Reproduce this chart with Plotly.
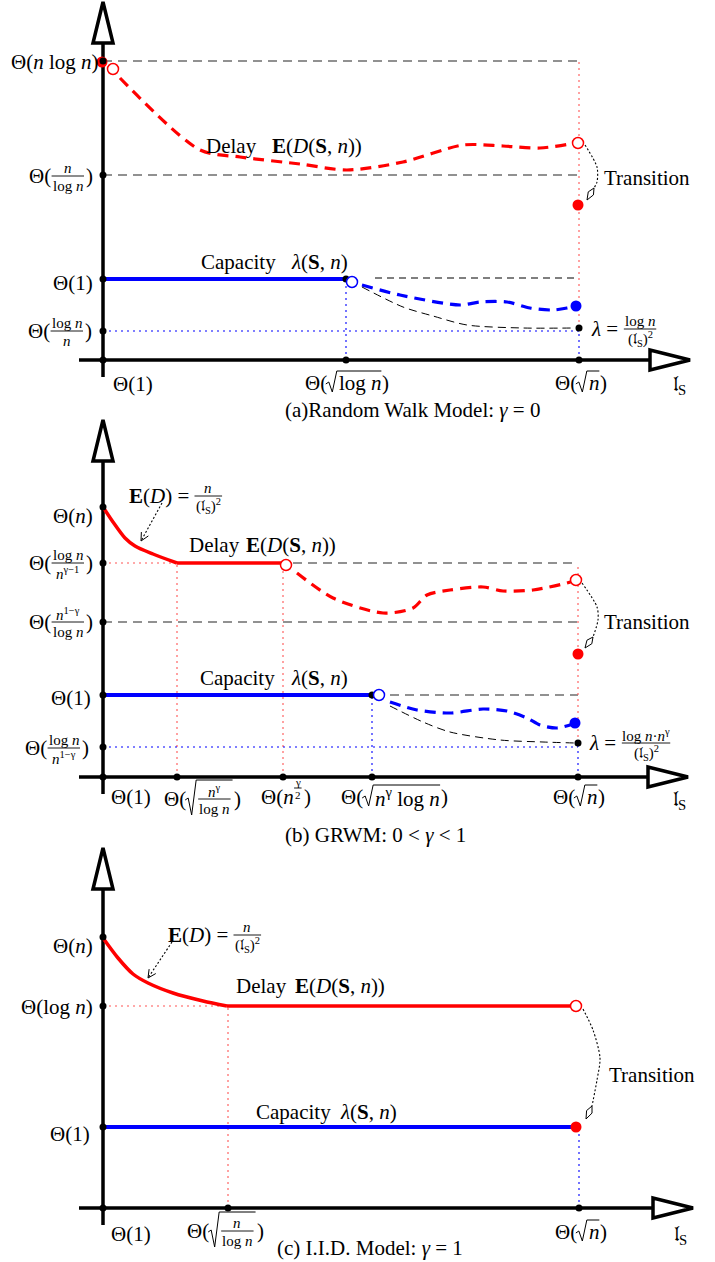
import re
import plotly.graph_objects as go

FONT = "Liberation Serif"
FS = 21
FR = 15
W, H = 715, 1262
OX = 103  # pixel x of the vertical axes

# ============================ DATA ============================
# Per panel: x = position along the l_S axis (origin = Θ(1) tick),
#            y = height above the l_S axis.

# ---- (a) Random Walk Model ----
a_ytick_vals = [299, 185, 81, 29]
a_xtick_vals = [0, 243, 476]
a_delay_x = [17, 97, 137, 197, 244, 300, 360, 400, 437, 467, 471]
a_delay_y = [282, 210, 203, 196, 190, 198, 215, 214, 212, 216, 217]
a_cap_x = [0, 243]
a_cap_y = [81, 81]
a_capdash_x = [259, 297, 357, 377, 404, 427, 450, 464, 472]
a_capdash_y = [75, 65, 55, 58, 58, 52, 50, 52, 54]
a_bound_x = [259, 300, 330, 364, 420, 470]
a_bound_y = [73, 53, 44, 35, 32, 32]
a_red_open_x = [10, 475]
a_red_open_y = [291, 217]
a_red_fill_x = [-1, 475]
a_red_fill_y = [298, 155]
a_blue_open_x = [249]
a_blue_open_y = [78]
a_blue_fill_x = [473]
a_blue_fill_y = [54]
a_black_x = [243, 476]
a_black_y = [81, 32]

# ---- (b) GRWM ----
b_ytick_vals = [270, 214, 155, 82, 30]
b_xtick_vals = [0, 74, 180, 269, 475]
b_delay_x = [0, 10, 22, 32, 50, 74]
b_delay_y = [270, 255, 239, 231, 223, 214]
b_flat_x = [74, 180]
b_flat_y = [214, 214]
b_delaydash_x = [194, 230, 280, 310, 324, 347, 380, 400, 430, 464, 470]
b_delaydash_y = [204, 179, 164, 169, 182, 187, 190, 186, 187, 194, 196]
b_cap_x = [0, 269]
b_cap_y = [82, 82]
b_capdash_x = [287, 314, 347, 380, 404, 424, 437, 454, 470]
b_capdash_y = [75, 67, 64, 68, 66, 59, 52, 49, 53]
b_bound_x = [287, 320, 347, 397, 440, 472]
b_bound_y = [71, 55, 45, 37, 35, 34]
b_red_open_x = [183, 473]
b_red_open_y = [212, 197]
b_red_fill_x = [475]
b_red_fill_y = [123]
b_blue_open_x = [276]
b_blue_open_y = [82]
b_blue_fill_x = [472]
b_blue_fill_y = [54]
b_black_x = [269, 475]
b_black_y = [82, 34]

# ---- (c) I.I.D. Model ----
c_ytick_vals = [271, 202, 81]
c_xtick_vals = [0, 125, 476]
c_delay_x = [0, 15, 30, 45, 70, 100, 124]
c_delay_y = [270, 250, 234, 225, 215, 207, 202]
c_flat_x = [124, 470]
c_flat_y = [202, 202]
c_cap_x = [0, 470]
c_cap_y = [81, 81]
c_red_open_x = [473]
c_red_open_y = [202]
c_red_fill_x = [473]
c_red_fill_y = [81]

# transition arrows (dotted path)
a_trans_x = [482, 494, 494, 491]
a_trans_y = [215, 193, 178, 172]
b_trans_x = [479, 494, 495, 490]
b_trans_y = [194, 170, 157, 140]
c_trans_x = [480, 490, 497, 494, 489]
c_trans_y = [199, 178, 150, 128, 102]

# ============================ FIGURE ============================
P = {
    'a': dict(yref='y', oy=360, top=0, bot=418),
    'b': dict(yref='y2', oy=777, top=418, bot=843),
    'c': dict(yref='y3', oy=1208, top=843, bot=1262),
}

fig = go.Figure()

CW = {'Θ': .722, '(': .333, ')': .333, ' ': .25, 'l': .278, 'o': .5, 'g': .5, 'n': .5,
      '1': .5, '2': .5, '0': .5, 'γ': .45, 'λ': .5, '=': .564, '·': .25, '−': .564,
      '-': .333, 'E': .667, 'D': .722, 'S': .556, ',': .25, '𝔩': .3}


def tw_html(html, size):
    w = 0.0
    scale = 1.0
    for tok in re.split(r'(<[^>]+>)', html):
        if tok.startswith('<'):
            t = tok.lower()
            if t in ('<sup>', '<sub>'):
                scale = 0.7
            elif t in ('</sup>', '</sub>'):
                scale = 1.0
            continue
        tok = tok.replace('&lt;', '<').replace('&gt;', '>').replace('&amp;', '&')
        w += sum(CW.get(ch, .5) for ch in tok) * size * scale
    return w


def ann(p, px, py, html, size=FS, anchor='left'):
    fig.add_annotation(x=px - OX, y=P[p]['oy'] - py, xref='x', yref=P[p]['yref'],
                       text=html, showarrow=False, xanchor=anchor, yanchor='middle',
                       font=dict(family=FONT, size=size, color='black'), borderpad=0)


def pline(p, pts, color='black', width=1.0, fill=None, close=False, dash='solid', layer='above'):
    path = 'M ' + ' L '.join(f'{x - OX:.2f},{P[p]["oy"] - y:.2f}' for x, y in pts)
    if close:
        path += ' Z'
    fig.add_shape(type='path', path=path, xref='x', yref=P[p]['yref'],
                  line=dict(color=color, width=width, dash=dash),
                  fillcolor=fill if fill else 'rgba(0,0,0,0)', layer=layer)


def T(html, size=FS, dy=0):
    return ('t', html, size, dy)


def F(nh, dh, size=FR, dy=0):
    return ('f', nh, dh, size, dy)


def SQ(items, tall=False):
    return ('sq', items, tall)


def iw(it):
    if it[0] == 't':
        return tw_html(it[1], it[2])
    if it[0] == 'f':
        return max(tw_html(it[1], it[3]), tw_html(it[2], it[3])) + 4
    return 12 + sum(iw(i) for i in it[1]) + 1


def draw(p, it, x, y):
    if it[0] == 't':
        ann(p, x, y + it[3], it[1], it[2])
    elif it[0] == 'f':
        _, nh, dh, size, dy = it
        w = iw(it)
        cx = x + w / 2
        yy = y + dy
        ann(p, cx, yy - size * 0.55, nh, size, 'center')
        ann(p, cx, yy + size * 0.68, dh, size, 'center')
        pline(p, [(x + 1, yy), (x + w - 1, yy)], width=0.9)
    else:
        _, items, tall = it
        w = iw(it)
        top = 19 if tall else 12
        bot = 16 if tall else 9
        pline(p, [(x, y + 1), (x + 3, y - 1), (x + 6.5, y + bot), (x + 11, y - top), (x + w, y - top)],
              width=1.0)
        cx = x + 12
        for i in items:
            draw(p, i, cx, y)
            cx += iw(i)


def compose(p, x, y, items, align='left'):
    total = sum(iw(i) for i in items)
    x0 = x if align == 'left' else (x - total if align == 'right' else x - total / 2)
    for i in items:
        draw(p, i, x0, y)
        x0 += iw(i)


def seg(p, x0, y0, x1, y1, color, width, dash='solid'):
    fig.add_shape(type='line', xref='x', yref=P[p]['yref'], x0=x0, y0=y0, x1=x1, y1=y1,
                  line=dict(color=color, width=width, dash=dash), layer='below')


def curve(p, xs, ys, color, width, dash='solid', shape='spline'):
    fig.add_trace(go.Scatter(x=xs, y=ys, xaxis='x', yaxis=P[p]['yref'], mode='lines',
                             line=dict(color=color, width=width, dash=dash, shape=shape, smoothing=0.8),
                             hoverinfo='skip', showlegend=False))


def dots(p, xs, ys, color, size, hollow=False):
    fig.add_trace(go.Scatter(x=xs, y=ys, xaxis='x', yaxis=P[p]['yref'], mode='markers',
                             marker=dict(size=size, color='white' if hollow else color,
                                         line=dict(color=color, width=1.5 if hollow else 0)),
                             cliponaxis=False, hoverinfo='skip', showlegend=False))


def axes(p, vtip, htip, vbot=-17, hstart=-24):
    seg(p, 0, vbot, 0, vtip - 41, 'black', 3.5)
    seg(p, hstart, 0, htip - 40, 0, 'black', 3.5)
    yr = P[p]['yref']
    fig.add_shape(type='path', xref='x', yref=yr,
                  path=f'M -10,{vtip - 41} L 10,{vtip - 41} L 0,{vtip} Z',
                  line=dict(color='black', width=3.5), fillcolor='white', layer='below')
    fig.add_shape(type='path', xref='x', yref=yr,
                  path=f'M {htip - 40},-10 L {htip - 40},10 L {htip},0 Z',
                  line=dict(color='black', width=3.5), fillcolor='white', layer='below')


def kite(p, bx, by, tx, ty):
    dx, dy = tx - bx, ty - by
    L = (dx * dx + dy * dy) ** 0.5
    ux, uy = dx / L, dy / L
    nx, ny = -uy, ux
    mx, my = bx + ux * L * 0.45, by + uy * L * 0.45
    pts = [(bx, by), (mx + nx * 3, my + ny * 3), (tx, ty), (mx - nx * 3, my - ny * 3)]
    path = 'M ' + ' L '.join(f'{x:.2f},{y:.2f}' for x, y in pts) + ' Z'
    fig.add_shape(type='path', path=path, xref='x', yref=P[p]['yref'],
                  line=dict(color='black', width=1), fillcolor='white', layer='above')


def pointer(p, sx, sy, tx, ty):
    fig.add_trace(go.Scatter(x=[sx, tx], y=[sy, ty], xaxis='x', yaxis=P[p]['yref'], mode='lines',
                             line=dict(color='black', width=1.1, dash='2px,2px'),
                             hoverinfo='skip', showlegend=False))
    dx, dy = tx - sx, ty - sy
    L = (dx * dx + dy * dy) ** 0.5
    ux, uy = dx / L, dy / L
    nx, ny = -uy, ux
    hx = [tx - ux * 8 + nx * 4, tx, tx - ux * 8 - nx * 4]
    hy = [ty - uy * 8 + ny * 4, ty, ty - uy * 8 - ny * 4]
    fig.add_trace(go.Scatter(x=hx, y=hy, xaxis='x', yaxis=P[p]['yref'], mode='lines',
                             line=dict(color='black', width=1), hoverinfo='skip', showlegend=False))


GRAY = '#6e6e6e'
RED = '#ff0000'
LRED = '#ff5555'
BLUE = '#0000ff'
GDASH = '9px,6px'
THICK = '11px,7px'

# ---------------- panel (a) ----------------
seg('a', 0, a_ytick_vals[0], a_xtick_vals[2], a_ytick_vals[0], GRAY, 1.3, GDASH)
seg('a', 0, a_ytick_vals[1], a_xtick_vals[2], a_ytick_vals[1], GRAY, 1.3, GDASH)
seg('a', 272, a_cap_y[0] + 1, a_xtick_vals[2], a_cap_y[0] + 1, 'black', 1.1, '7px,5px')
seg('a', 0, a_ytick_vals[3], a_xtick_vals[2], a_ytick_vals[3], BLUE, 1.1, '2px,4px')
seg('a', a_xtick_vals[1], 0, a_xtick_vals[1], a_cap_y[0] - 6, BLUE, 1.1, '2px,4px')
seg('a', a_xtick_vals[2], 0, a_xtick_vals[2], a_black_y[1], BLUE, 1.1, '2px,4px')
seg('a', a_xtick_vals[2], a_black_y[1], a_xtick_vals[2], a_ytick_vals[0], LRED, 1.1, '2px,4px')
axes('a', 358, 587)

curve('a', a_delay_x, a_delay_y, RED, 3.2, THICK)
curve('a', a_cap_x, a_cap_y, BLUE, 3.8, 'solid', 'linear')
curve('a', a_capdash_x, a_capdash_y, BLUE, 3.2, THICK)
curve('a', a_bound_x, a_bound_y, 'black', 1.0, '8px,5px')
curve('a', a_trans_x, a_trans_y, 'black', 1.1, '2px,2px')
kite('a', a_trans_x[-1], a_trans_y[-1], 484, 160)
dots('a', a_red_fill_x, a_red_fill_y, RED, 11)
dots('a', [0] * len(a_ytick_vals) + a_xtick_vals, a_ytick_vals + [0] * len(a_xtick_vals), 'black', 7)
dots('a', a_black_x, a_black_y, 'black', 7)
dots('a', a_red_open_x, a_red_open_y, RED, 11, hollow=True)
dots('a', a_blue_open_x, a_blue_open_y, BLUE, 11, hollow=True)
dots('a', a_blue_fill_x, a_blue_fill_y, BLUE, 11)

compose('a', 97, 62, [T('Θ(<i>n</i> log <i>n</i>)')], 'right')
compose('a', 92, 176, [T('Θ('), F('<i>n</i>', 'log <i>n</i>'), T(')')], 'right')
compose('a', 92, 283, [T('Θ(1)')], 'right')
compose('a', 91, 331, [T('Θ('), F('log <i>n</i>', '<i>n</i>'), T(')')], 'right')
compose('a', 132, 384, [T('Θ(1)')], 'center')
compose('a', 346, 383, [T('Θ('), SQ([T('log <i>n</i>')]), T(')')], 'center')
compose('a', 580, 383, [T('Θ('), SQ([T('<i>n</i>')]), T(')')], 'center')
compose('a', 679, 385, [T('𝔩<sub>S</sub>')], 'center')
ann('a', 205, 146, 'Delay')
ann('a', 271, 146, '<b>E</b>(<i>D</i>(<b>S</b>, <i>n</i>))')
ann('a', 200, 262, 'Capacity')
ann('a', 290, 262, '<i>λ</i>(<b>S</b>, <i>n</i>)')
ann('a', 603, 178, 'Transition')
compose('a', 590, 329, [T('<i>λ</i> = '), F('log <i>n</i>', '(𝔩<sub>S</sub>)<sup>2</sup>')])
ann('a', 412, 410, '(a)Random Walk Model: <i>γ</i> = 0', FS, 'center')

# ---------------- panel (b) ----------------
seg('b', 0, b_ytick_vals[1], b_xtick_vals[1], b_ytick_vals[1], LRED, 1.1, '2px,4px')
seg('b', b_xtick_vals[1], 0, b_xtick_vals[1], b_ytick_vals[1], LRED, 1.1, '2px,4px')
seg('b', b_xtick_vals[2], 0, b_xtick_vals[2], b_ytick_vals[1], LRED, 1.1, '2px,4px')
seg('b', 190, b_ytick_vals[1], b_xtick_vals[4], b_ytick_vals[1], GRAY, 1.3, GDASH)
seg('b', 0, b_ytick_vals[2], b_xtick_vals[4], b_ytick_vals[2], GRAY, 1.3, GDASH)
seg('b', 287, b_cap_y[0], b_xtick_vals[4], b_cap_y[0], GRAY, 1.3, GDASH)
seg('b', 0, b_ytick_vals[4], b_xtick_vals[4], b_ytick_vals[4], BLUE, 1.1, '2px,4px')
seg('b', b_xtick_vals[3], 0, b_xtick_vals[3], b_cap_y[0], BLUE, 1.1, '2px,4px')
seg('b', b_xtick_vals[4], 0, b_xtick_vals[4], b_black_y[1], BLUE, 1.1, '2px,4px')
seg('b', b_xtick_vals[4], b_black_y[1], b_xtick_vals[4], b_ytick_vals[1], LRED, 1.1, '2px,4px')
axes('b', 357, 585)

curve('b', b_delay_x, b_delay_y, RED, 3.5, 'solid')
curve('b', b_flat_x, b_flat_y, RED, 3.5, 'solid', 'linear')
curve('b', b_delaydash_x, b_delaydash_y, RED, 3.2, THICK)
curve('b', b_cap_x, b_cap_y, BLUE, 3.8, 'solid', 'linear')
curve('b', b_capdash_x, b_capdash_y, BLUE, 3.2, THICK)
curve('b', b_bound_x, b_bound_y, 'black', 1.0, '8px,5px')
curve('b', b_trans_x, b_trans_y, 'black', 1.1, '2px,2px')
kite('b', b_trans_x[-1], b_trans_y[-1], 482, 129)
pointer('b', 59, 274, 38, 236)
dots('b', [0] * len(b_ytick_vals) + b_xtick_vals, b_ytick_vals + [0] * len(b_xtick_vals), 'black', 7)
dots('b', b_black_x, b_black_y, 'black', 7)
dots('b', b_red_open_x, b_red_open_y, RED, 11, hollow=True)
dots('b', b_red_fill_x, b_red_fill_y, RED, 11)
dots('b', b_blue_open_x, b_blue_open_y, BLUE, 11, hollow=True)
dots('b', b_blue_fill_x, b_blue_fill_y, BLUE, 11)

compose('b', 92, 516, [T('Θ(<i>n</i>)')], 'right')
compose('b', 92, 563, [T('Θ('), F('log <i>n</i>', '<i>n</i><sup>γ−1</sup>'), T(')')], 'right')
compose('b', 92, 622, [T('Θ('), F('<i>n</i><sup>1−γ</sup>', 'log <i>n</i>'), T(')')], 'right')
compose('b', 90, 698, [T('Θ(1)')], 'right')
compose('b', 88, 748, [T('Θ('), F('log <i>n</i>', '<i>n</i><sup>1−γ</sup>'), T(')')], 'right')
compose('b', 130, 797, [T('Θ(1)')], 'center')
compose('b', 163, 799, [T('Θ('), SQ([F('<i>n</i><sup>γ</sup>', 'log <i>n</i>')], tall=True), T(')')])
compose('b', 285, 797, [T('Θ(<i>n</i>'), F('γ', '2', size=11, dy=-9), T(')')], 'center')
compose('b', 340, 797, [T('Θ('), SQ([T('<i>n</i><sup>γ</sup> log <i>n</i>')]), T(')')])
compose('b', 578, 797, [T('Θ('), SQ([T('<i>n</i>')]), T(')')], 'center')
compose('b', 679, 800, [T('𝔩<sub>S</sub>')], 'center')
compose('b', 128, 496, [T('<b>E</b>(<i>D</i>) = '), F('<i>n</i>', '(𝔩<sub>S</sub>)<sup>2</sup>')])
ann('b', 188, 545, 'Delay')
ann('b', 245, 545, '<b>E</b>(<i>D</i>(<b>S</b>, <i>n</i>))')
ann('b', 199, 678, 'Capacity')
ann('b', 290, 678, '<i>λ</i>(<b>S</b>, <i>n</i>)')
ann('b', 603, 622, 'Transition')
compose('b', 588, 743, [T('<i>λ</i> = '), F('log <i>n</i>·<i>n</i><sup>γ</sup>', '(𝔩<sub>S</sub>)<sup>2</sup>')])
ann('b', 375, 835, '(b) GRWM: 0 &lt; <i>γ</i> &lt; 1', FS, 'center')

# ---------------- panel (c) ----------------
seg('c', 0, c_ytick_vals[1], c_xtick_vals[1], c_ytick_vals[1], LRED, 1.1, '2px,4px')
seg('c', c_xtick_vals[1], 0, c_xtick_vals[1], c_ytick_vals[1], LRED, 1.1, '2px,4px')
seg('c', c_xtick_vals[2], 0, c_xtick_vals[2], c_ytick_vals[2], BLUE, 1.1, '2px,4px')
axes('c', 360, 590)

curve('c', c_delay_x, c_delay_y, RED, 3.5, 'solid')
curve('c', c_flat_x, c_flat_y, RED, 3.5, 'solid', 'linear')
curve('c', c_cap_x, c_cap_y, BLUE, 3.8, 'solid', 'linear')
curve('c', c_trans_x, c_trans_y, 'black', 1.1, '2px,2px')
kite('c', c_trans_x[-1], c_trans_y[-1], 483, 89)
pointer('c', 69, 266, 45, 230)
dots('c', [0] * len(c_ytick_vals) + c_xtick_vals, c_ytick_vals + [0] * len(c_xtick_vals), 'black', 7)
dots('c', c_red_open_x, c_red_open_y, RED, 11, hollow=True)
dots('c', c_red_fill_x, c_red_fill_y, RED, 11)

compose('c', 92, 946, [T('Θ(<i>n</i>)')], 'right')
compose('c', 92, 1007, [T('Θ(log <i>n</i>)')], 'right')
compose('c', 89, 1134, [T('Θ(1)')], 'right')
compose('c', 130, 1234, [T('Θ(1)')], 'center')
compose('c', 186, 1231, [T('Θ('), SQ([F('<i>n</i>', 'log <i>n</i>')], tall=True), T(')')])
compose('c', 580, 1232, [T('Θ('), SQ([T('<i>n</i>')]), T(')')], 'center')
compose('c', 680, 1235, [T('𝔩<sub>S</sub>')], 'center')
compose('c', 167, 935, [T('<b>E</b>(<i>D</i>) = '), F('<i>n</i>', '(𝔩<sub>S</sub>)<sup>2</sup>')])
ann('c', 235, 986, 'Delay')
ann('c', 294, 986, '<b>E</b>(<i>D</i>(<b>S</b>, <i>n</i>))')
ann('c', 255, 1112, 'Capacity')
ann('c', 339, 1112, '<i>λ</i>(<b>S</b>, <i>n</i>)')
ann('c', 608, 1075, 'Transition')
ann('c', 370, 1248, '(c) I.I.D. Model: <i>γ</i> = 1', FS, 'center')

# ---------------- axes / layout ----------------
layout_axes = {}
for key, name in (('a', 'yaxis'), ('b', 'yaxis2'), ('c', 'yaxis3')):
    pp = P[key]
    layout_axes[name] = dict(domain=[1 - pp['bot'] / H, 1 - pp['top'] / H],
                             range=[pp['oy'] - pp['bot'], pp['oy'] - pp['top']],
                             anchor='x', visible=False, fixedrange=True)

fig.update_layout(
    width=W, height=H, margin=dict(l=0, r=0, t=0, b=0, pad=0),
    paper_bgcolor='white', plot_bgcolor='white', showlegend=False,
    font=dict(family=FONT, size=FS, color='black'),
    xaxis=dict(domain=[0, 1], range=[-OX, W - OX], visible=False, fixedrange=True, anchor='y'),
    **layout_axes,
)

fig.write_html("out.html", config={'displayModeBar': False},
               post_script="document.body.style.margin='0px';document.body.style.overflow='hidden';")
